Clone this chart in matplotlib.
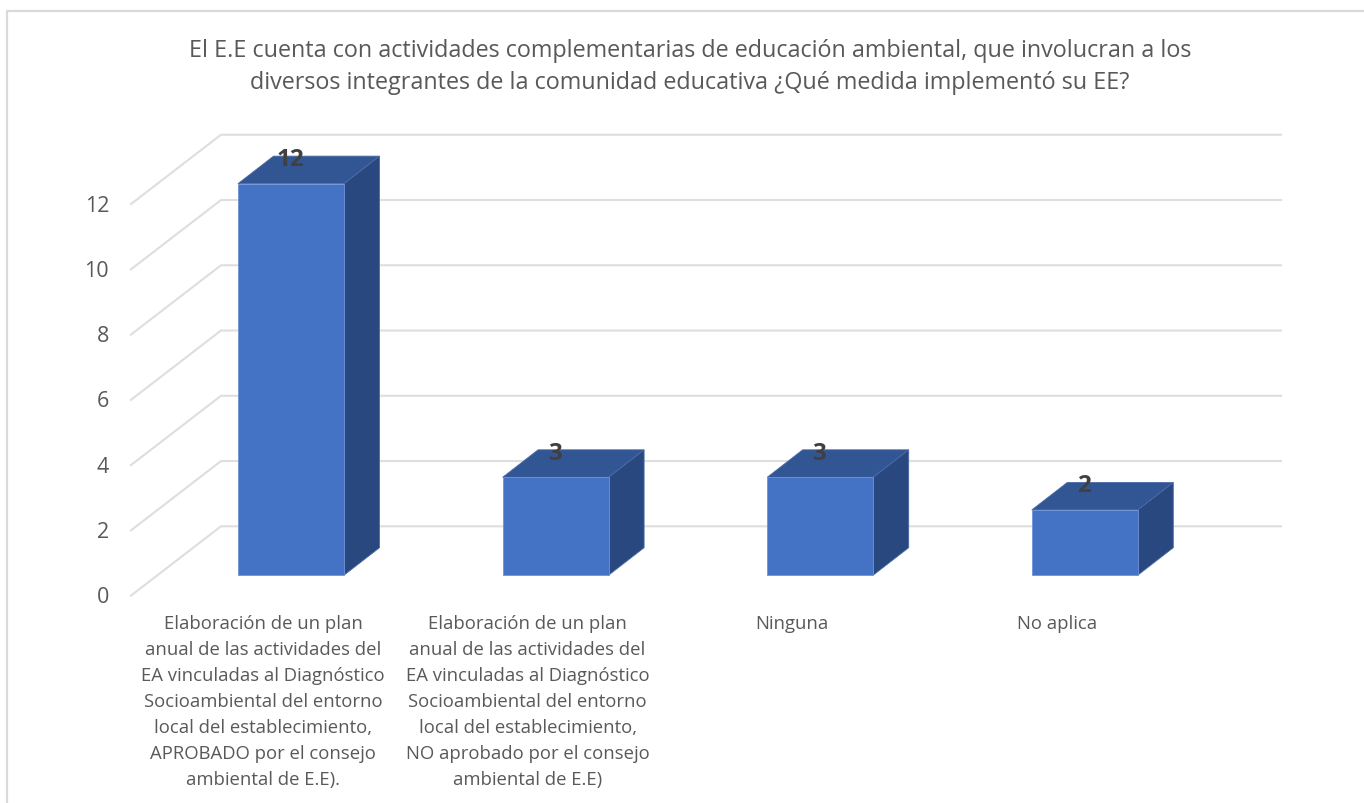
#!/usr/bin/env python3
# -*- coding: utf-8 -*-

import matplotlib
matplotlib.use('Agg')
import matplotlib.pyplot as plt
from matplotlib.patches import Polygon

# Data
categories = [
    'Elaboración de un plan\nanual de las actividades del\nEA vinculadas al Diagnóstico\n'
    'Socioambiental del entorno\nlocal del establecimiento,\nAPROBADO por el consejo\nambiental de E.E).',
    'Elaboración de un plan\nanual de las actividades del\nEA vinculadas al Diagnóstico\n'
    'Socioambiental del entorno\nlocal del establecimiento,\nNO aprobado por el consejo\nambiental de E.E)',
    'Ninguna',
    'No aplica',
]
values = [12, 3, 3, 2]
y_ticks = [0, 2, 4, 6, 8, 10, 12]
title = ('El E.E cuenta con actividades complementarias de educación ambiental, que involucran a los\n'
         'diversos integrantes de la comunidad educativa ¿Qué medida implementó su EE?')

plt.rcParams['font.family'] = ['Open Sans', 'DejaVu Sans']

W, H = 1364, 804
# pixels per data unit and where category 0 / value 0 sit
ux, uy = 264.6, 32.63
x0_px, y0_px = 291.0, 576.2
bar_w = 106 / ux
depth_x, depth_y = 35.5 / ux, 27.5 / uy

fig = plt.figure(figsize=(W / 100, H / 100), dpi=100)
ax = fig.add_axes([0, 0, 1, 1])
ax.set_xlim(-x0_px / ux, (W - x0_px) / ux)
ax.set_ylim(-(H - y0_px) / uy, y0_px / uy)
ax.axis('off')

# Chart frame (no bottom or right side in the crop)
grid_c = '#dedede'
frame_x = (7 - x0_px) / ux
frame_y = (y0_px - 12) / uy
ax.plot([frame_x, frame_x, ax.get_xlim()[1]], [ax.get_ylim()[0], frame_y, frame_y], c='#d9d9d9', lw=1.6)

# Side wall and back wall lines
front_x, back_x, end_x = (131 - x0_px) / ux, (221 - x0_px) / ux, (1281 - x0_px) / ux
front_y, back_y = -20.4 / uy, 48.9 / uy
for v in y_ticks:
    ax.plot([front_x, back_x, end_x], [v + front_y, v + back_y, v + back_y], c=grid_c, lw=1.5, zorder=1)
    ax.text((109 - x0_px) / ux, v + front_y - 1 / uy, str(v), ha='right', va='center',
            fontsize=15.5, color='#595959')

# 3D looking bars
for i, v in enumerate(values):
    l, r = i - bar_w / 2, i + bar_w / 2
    ax.add_patch(Polygon([(l, v), (r, v), (r + depth_x, v + depth_y), (l + depth_x, v + depth_y)],
                         fc='#325593', ec='#4a6ba8', lw=0.6, zorder=3))
    ax.add_patch(Polygon([(r, 0), (r + depth_x, depth_y), (r + depth_x, v + depth_y), (r, v)],
                         fc='#29487f', ec='#4a6ba8', lw=0.6, zorder=3))
    ax.add_patch(Polygon([(l, 0), (r, 0), (r, v), (l, v)], fc='#4472c4', ec='#6f93d6', lw=0.6, zorder=3))
    ax.text(i - 1 / ux, v + depth_y - 3 / uy, str(v), ha='center', va='center', fontsize=17.5,
            fontweight='bold', color='#404040', zorder=4)
    ax.text(i - 28 / ux, -(615.5 - y0_px) / uy, categories[i], ha='center', va='top',
            fontsize=13.3, color='#595959', linespacing=1.57)

ax.text((690 - x0_px) / ux, (y0_px - 67) / uy, title, ha='center', va='center',
        fontsize=16.8, color='#595959', linespacing=1.46)

fig.savefig('out.png', dpi=100)
